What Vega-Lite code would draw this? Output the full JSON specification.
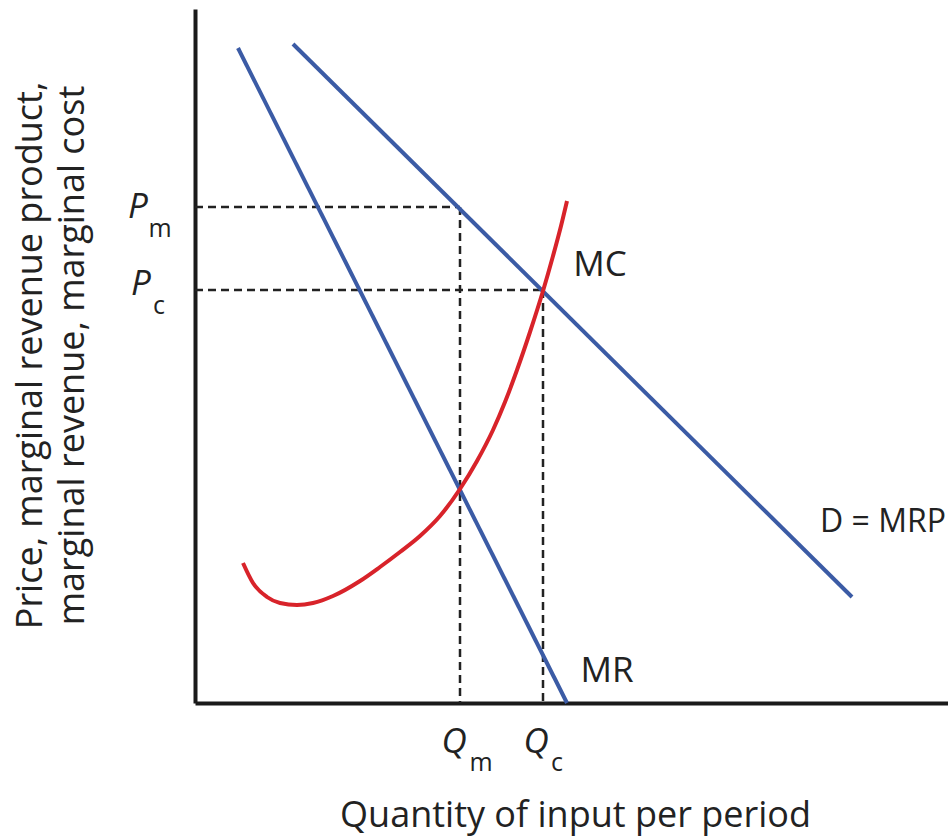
{
  "$schema": "https://vega.github.io/schema/vega-lite/v6.json",
  "width": 753,
  "height": 694,
  "autosize": {"type": "none"},
  "padding": {"left": 195, "top": 9, "right": 0, "bottom": 135},
  "background": "white",
  "config": {
    "view": {"stroke": null},
    "font": "Open Sans",
    "axis": {"domainColor": "#1a1a1a", "domainWidth": 4, "ticks": false, "labels": false, "grid": false, "titleFont": "Open Sans", "titleFontSize": 36, "titleFontWeight": "normal", "titleColor": "#222222"}
  },
  "datasets": {
    "curves": [
      {"series": "MR", "q": 43, "p": 655},
      {"series": "MR", "q": 372, "p": 0},
      {"series": "D", "q": 98, "p": 659},
      {"series": "D", "q": 657, "p": 106},
      {"series": "MC", "q": 48, "p": 140},
      {"series": "MC", "q": 58, "p": 120},
      {"series": "MC", "q": 72, "p": 106},
      {"series": "MC", "q": 85, "p": 100},
      {"series": "MC", "q": 102, "p": 98},
      {"series": "MC", "q": 118, "p": 100},
      {"series": "MC", "q": 138, "p": 107},
      {"series": "MC", "q": 165, "p": 122},
      {"series": "MC", "q": 185, "p": 136},
      {"series": "MC", "q": 205, "p": 151},
      {"series": "MC", "q": 225, "p": 167},
      {"series": "MC", "q": 245, "p": 187},
      {"series": "MC", "q": 265, "p": 214},
      {"series": "MC", "q": 282, "p": 242},
      {"series": "MC", "q": 298, "p": 273},
      {"series": "MC", "q": 310, "p": 301},
      {"series": "MC", "q": 322, "p": 333},
      {"series": "MC", "q": 335, "p": 371},
      {"series": "MC", "q": 348, "p": 412},
      {"series": "MC", "q": 358, "p": 447},
      {"series": "MC", "q": 366, "p": 477},
      {"series": "MC", "q": 372, "p": 502}
    ],
    "guides": [
      {"q": 0, "p": 496, "q2": 265, "p2": 496},
      {"q": 0, "p": 413, "q2": 348, "p2": 413},
      {"q": 265, "p": 496, "q2": 265, "p2": 0},
      {"q": 348, "p": 413, "q2": 348, "p2": 0}
    ],
    "labels": [
      {"text": "MC", "q": 405, "p": 438},
      {"text": "MR", "q": 412, "p": 32}
    ],
    "demandLabel": [
      {"text": "D = MRP", "q": 688, "p": 181}
    ],
    "bigSym": [
      {"text": "P", "q": -57, "p": 496},
      {"text": "P", "q": -54, "p": 419},
      {"text": "Q", "q": 259, "p": -39},
      {"text": "Q", "q": 341, "p": -39}
    ],
    "subSym": [
      {"text": "m", "q": -35, "p": 474},
      {"text": "c", "q": -36, "p": 397},
      {"text": "m", "q": 286, "p": -60},
      {"text": "c", "q": 362, "p": -60}
    ]
  },
  "layer": [
    {
      "data": {"name": "guides"},
      "mark": {"type": "rule", "color": "#222222", "strokeWidth": 2.5, "strokeDash": [8, 5]},
      "encoding": {
        "x": {"field": "q", "type": "quantitative", "scale": {"domain": [0, 753], "nice": false, "zero": false}, "axis": {"title": "Quantity of input per period", "titleX": 380, "titleY": 112, "titleBaseline": "middle", "titleAlign": "center"}},
        "y": {"field": "p", "type": "quantitative", "scale": {"domain": [0, 694], "nice": false, "zero": false}, "axis": {"title": ["Price, marginal revenue product,", "marginal revenue, marginal cost"], "titleX": -165, "titleY": 346, "titleBaseline": "middle", "titleAlign": "center", "titleLineHeight": 42}},
        "x2": {"field": "q2"},
        "y2": {"field": "p2"}
      }
    },
    {
      "data": {"name": "curves"},
      "mark": {"type": "line", "strokeWidth": 4, "interpolate": "monotone", "strokeCap": "butt"},
      "encoding": {
        "x": {"field": "q", "type": "quantitative"},
        "y": {"field": "p", "type": "quantitative"},
        "detail": {"field": "series"},
        "color": {"field": "series", "type": "nominal", "scale": {"domain": ["MR", "D", "MC"], "range": ["#3b5ba5", "#3b5ba5", "#d8232a"]}, "legend": null}
      }
    },
    {
      "data": {"name": "labels"},
      "mark": {"type": "text", "fontSize": 35, "font": "Open Sans", "color": "#222222", "baseline": "middle", "align": "center"},
      "encoding": {
        "x": {"field": "q", "type": "quantitative"},
        "y": {"field": "p", "type": "quantitative"},
        "text": {"field": "text"}
      }
    },
    {
      "data": {"name": "demandLabel"},
      "mark": {"type": "text", "fontSize": 32, "font": "Open Sans", "color": "#222222", "baseline": "middle", "align": "center"},
      "encoding": {
        "x": {"field": "q", "type": "quantitative"},
        "y": {"field": "p", "type": "quantitative"},
        "text": {"field": "text"}
      }
    },
    {
      "data": {"name": "bigSym"},
      "mark": {"type": "text", "fontSize": 35, "font": "Open Sans", "fontStyle": "italic", "color": "#222222", "baseline": "middle", "align": "center"},
      "encoding": {
        "x": {"field": "q", "type": "quantitative"},
        "y": {"field": "p", "type": "quantitative"},
        "text": {"field": "text"}
      }
    },
    {
      "data": {"name": "subSym"},
      "mark": {"type": "text", "fontSize": 25, "font": "Open Sans", "color": "#222222", "baseline": "middle", "align": "center"},
      "encoding": {
        "x": {"field": "q", "type": "quantitative"},
        "y": {"field": "p", "type": "quantitative"},
        "text": {"field": "text"}
      }
    }
  ]
}
